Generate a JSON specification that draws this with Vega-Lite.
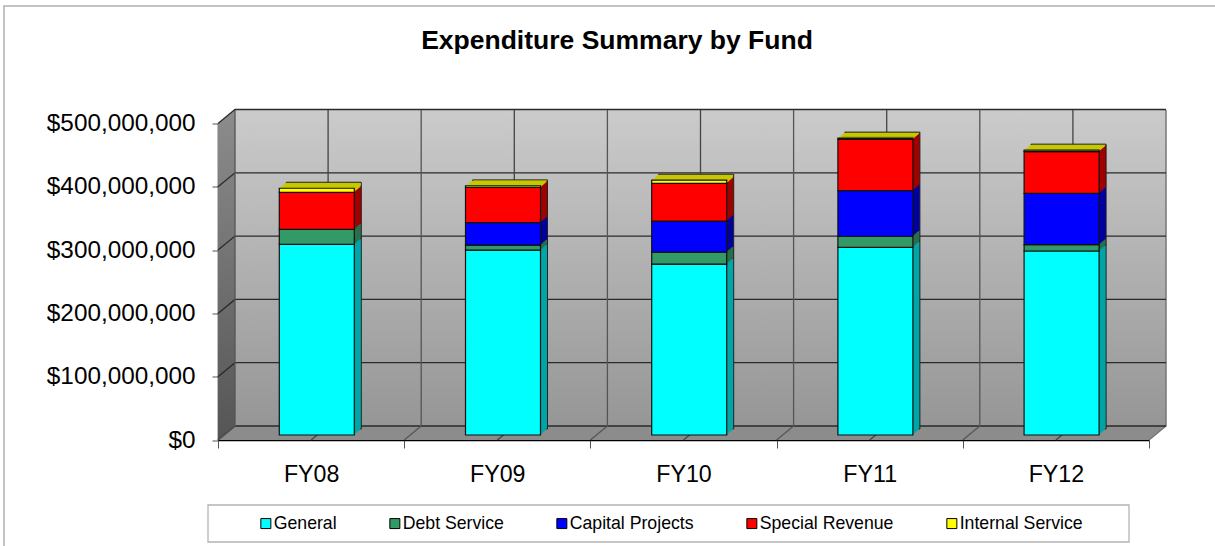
{
"$schema":"https://vega.github.io/schema/vega-lite/v6.json",
"width":931,"height":316.5,
"autosize":"none",
"padding":{"left":218,"top":123.5,"right":66,"bottom":106},
"background":"white",
"title":{"text":"Expenditure Summary by Fund","font":"Liberation Sans","fontSize":26.5,"fontWeight":"bold","color":"black","anchor":"middle","dx":-66.5,"offset":0,"dy":51},
"datasets":{
"main":[
{"fy":"FY08","fund":"General","rank":1,"value":301000000},
{"fy":"FY08","fund":"Debt Service","rank":2,"value":24000000},
{"fy":"FY08","fund":"Special Revenue","rank":4,"value":58400000},
{"fy":"FY08","fund":"Internal Service","rank":5,"value":6400000},
{"fy":"FY09","fund":"General","rank":1,"value":292000000},
{"fy":"FY09","fund":"Debt Service","rank":2,"value":8000000},
{"fy":"FY09","fund":"Capital Projects","rank":3,"value":35400000},
{"fy":"FY09","fund":"Special Revenue","rank":4,"value":55600000},
{"fy":"FY09","fund":"Internal Service","rank":5,"value":2500000},
{"fy":"FY10","fund":"General","rank":1,"value":270000000},
{"fy":"FY10","fund":"Debt Service","rank":2,"value":19000000},
{"fy":"FY10","fund":"Capital Projects","rank":3,"value":49000000},
{"fy":"FY10","fund":"Special Revenue","rank":4,"value":59500000},
{"fy":"FY10","fund":"Internal Service","rank":5,"value":5000000},
{"fy":"FY11","fund":"General","rank":1,"value":296500000},
{"fy":"FY11","fund":"Debt Service","rank":2,"value":17500000},
{"fy":"FY11","fund":"Capital Projects","rank":3,"value":72000000},
{"fy":"FY11","fund":"Special Revenue","rank":4,"value":81000000},
{"fy":"FY11","fund":"Internal Service","rank":5,"value":2000000},
{"fy":"FY12","fund":"General","rank":1,"value":290700000},
{"fy":"FY12","fund":"Debt Service","rank":2,"value":9900000},
{"fy":"FY12","fund":"Capital Projects","rank":3,"value":81200000},
{"fy":"FY12","fund":"Special Revenue","rank":4,"value":65800000},
{"fy":"FY12","fund":"Internal Service","rank":5,"value":2400000}
],
"cats":[{"fy":"FY08"},{"fy":"FY09"},{"fy":"FY10"},{"fy":"FY11"},{"fy":"FY12"}],
"one":[{"fy":"FY08"}],
"ticks":[{"fy":"FY08","t":0},{"fy":"FY08","t":100000000},{"fy":"FY08","t":200000000},{"fy":"FY08","t":300000000},{"fy":"FY08","t":400000000},{"fy":"FY08","t":500000000}]
},
"data":{"name":"main"},
"encoding":{
"x":{"field":"fy","type":"nominal","bandPosition":0,"title":null,"scale":{"domain":["FY08","FY09","FY10","FY11","FY12"],"paddingInner":0,"paddingOuter":0},
"axis":{"labelAngle":0,"labelFont":"Liberation Sans","labelFontSize":23.2,"labelColor":"black","labelPadding":15.5,"tickBand":"extent","tickSize":8,"tickColor":"#555","domainColor":"black","domainWidth":1.5,"grid":false}}
},
"layer":[
{"data":{"name":"one"},"encoding":{"y":{"datum":0,"type":"quantitative"}},"mark":{"type":"point","opacity":1,"filled":false,"size":4,"shape":"M-214 106L-214 -434L997 -434","stroke":"#b0b0b0","strokeWidth":1.5}},
{"data":{"name":"one"},"encoding":{"y":{"datum":0,"type":"quantitative"}},"mark":{"type":"point","opacity":1,"filled":true,"size":4,"shape":"M0 0L17 -14L948 -14L931 0Z","fill":"#8c8c8c","stroke":"#8c8c8c","strokeWidth":0}},
{"data":{"name":"one"},"encoding":{"y":{"datum":0,"type":"quantitative"}},"mark":{"type":"point","opacity":1,"filled":true,"size":4,"shape":"M17 -14L17 -330L948 -330L948 -14Z","strokeWidth":0,"fill":{"gradient":"linear","x1":0,"y1":0,"x2":0,"y2":1,"stops":[{"offset":0,"color":"#cbcbcb"},{"offset":1,"color":"#969696"}]}}},
{"data":{"name":"one"},"encoding":{"y":{"datum":0,"type":"quantitative"}},"mark":{"type":"point","opacity":1,"filled":true,"size":4,"shape":"M0 0L17 -14L17 -330L0 -316.5Z","strokeWidth":0,"fill":{"gradient":"linear","x1":0,"y1":0,"x2":0,"y2":1,"stops":[{"offset":0,"color":"#8c8c8c"},{"offset":1,"color":"#555555"}]}}},
{"data":{"name":"one"},"encoding":{"y":{"datum":0,"type":"quantitative"}},"mark":{"type":"point","opacity":1,"filled":false,"size":4,"shape":"M948 -330L948 -14L931 0","stroke":"#777777","strokeWidth":1.5}},
{"data":{"name":"ticks"},"encoding":{"y":{"field":"t","type":"quantitative"}},"mark":{"type":"point","opacity":1,"filled":false,"size":4,"shape":"M0 0L17 -14L948 -14","stroke":"#2a2a2a","strokeWidth":1.3}},
{"data":{"name":"cats"},"encoding":{"y":{"datum":0,"type":"quantitative"}},"mark":{"type":"point","opacity":1,"filled":false,"size":4,"shape":"M0 0L17 -14L17 -330","stroke":"#555555","strokeWidth":1.3}},
{"data":{"name":"cats"},"encoding":{"x":{"field":"fy","type":"nominal","bandPosition":0.5},"y":{"datum":0,"type":"quantitative"}},"mark":{"type":"point","opacity":1,"filled":false,"size":4,"shape":"M0 0L17 -14L17 -330","stroke":"#444444","strokeWidth":1.3}},
{"data":{"name":"one"},"encoding":{"y":{"datum":0,"type":"quantitative"}},"mark":{"type":"point","opacity":1,"filled":false,"size":4,"shape":"M-10 65L911 65L911 102L-10 102Z","stroke":"#b4b4b4","strokeWidth":1.3}},
{"mark":{"type":"bar","size":75,"xOffset":12.7,"x2Offset":12.7,"yOffset":-11,"y2Offset":-11,"stroke":"#222","strokeWidth":1},
 "encoding":{"x":{"field":"fy","type":"nominal"},"y":{"field":"value","type":"quantitative","stack":"zero"},"order":{"field":"rank"},"color":{"field":"fund","type":"nominal","legend":null,"scale":{"domain":["General","Debt Service","Capital Projects","Special Revenue","Internal Service"],"range":["#00a5a5","#2a6f4c","#0000a0","#a00000","#c8c800"]}}}},
{"mark":{"type":"bar","size":75,"xOffset":11.7,"x2Offset":11.7,"yOffset":-10.14,"y2Offset":-10.14},
 "encoding":{"x":{"field":"fy","type":"nominal"},"y":{"field":"value","type":"quantitative","stack":"zero"},"order":{"field":"rank"},"color":{"field":"fund","type":"nominal","legend":null,"scale":{"domain":["General","Debt Service","Capital Projects","Special Revenue","Internal Service"],"range":["#00a5a5","#2a6f4c","#0000a0","#a00000","#c8c800"]}}}},
{"mark":{"type":"bar","size":75,"xOffset":10.7,"x2Offset":10.7,"yOffset":-9.29,"y2Offset":-9.29},
 "encoding":{"x":{"field":"fy","type":"nominal"},"y":{"field":"value","type":"quantitative","stack":"zero"},"order":{"field":"rank"},"color":{"field":"fund","type":"nominal","legend":null,"scale":{"domain":["General","Debt Service","Capital Projects","Special Revenue","Internal Service"],"range":["#00a5a5","#2a6f4c","#0000a0","#a00000","#c8c800"]}}}},
{"mark":{"type":"bar","size":75,"xOffset":9.7,"x2Offset":9.7,"yOffset":-8.43,"y2Offset":-8.43},
 "encoding":{"x":{"field":"fy","type":"nominal"},"y":{"field":"value","type":"quantitative","stack":"zero"},"order":{"field":"rank"},"color":{"field":"fund","type":"nominal","legend":null,"scale":{"domain":["General","Debt Service","Capital Projects","Special Revenue","Internal Service"],"range":["#00a5a5","#2a6f4c","#0000a0","#a00000","#c8c800"]}}}},
{"mark":{"type":"bar","size":75,"xOffset":8.7,"x2Offset":8.7,"yOffset":-7.57,"y2Offset":-7.57},
 "encoding":{"x":{"field":"fy","type":"nominal"},"y":{"field":"value","type":"quantitative","stack":"zero"},"order":{"field":"rank"},"color":{"field":"fund","type":"nominal","legend":null,"scale":{"domain":["General","Debt Service","Capital Projects","Special Revenue","Internal Service"],"range":["#00a5a5","#2a6f4c","#0000a0","#a00000","#c8c800"]}}}},
{"mark":{"type":"bar","size":75,"xOffset":7.7,"x2Offset":7.7,"yOffset":-6.71,"y2Offset":-6.71},
 "encoding":{"x":{"field":"fy","type":"nominal"},"y":{"field":"value","type":"quantitative","stack":"zero"},"order":{"field":"rank"},"color":{"field":"fund","type":"nominal","legend":null,"scale":{"domain":["General","Debt Service","Capital Projects","Special Revenue","Internal Service"],"range":["#00a5a5","#2a6f4c","#0000a0","#a00000","#c8c800"]}}}},
{"mark":{"type":"bar","size":75,"xOffset":6.7,"x2Offset":6.7,"yOffset":-5.86,"y2Offset":-5.86},
 "encoding":{"x":{"field":"fy","type":"nominal"},"y":{"field":"value","type":"quantitative","stack":"zero"},"order":{"field":"rank"},"color":{"field":"fund","type":"nominal","legend":null,"scale":{"domain":["General","Debt Service","Capital Projects","Special Revenue","Internal Service"],"range":["#00a5a5","#2a6f4c","#0000a0","#a00000","#c8c800"]}}}},
{"mark":{"type":"bar","size":75,"xOffset":5.7,"x2Offset":5.7,"yOffset":-5,"y2Offset":-5,"stroke":"#111","strokeWidth":1.2},
 "encoding":{"x":{"field":"fy","type":"nominal"},"y":{"field":"value","type":"quantitative","stack":"zero","title":null,"scale":{"domain":[0,500000000],"nice":false},
 "axis":{"format":"$,.0f","values":[0,100000000,200000000,300000000,400000000,500000000],"labelFont":"Liberation Sans","labelFontSize":24.3,"labelColor":"black","labelPadding":17,"tickSize":6,"tickColor":"#555","domainColor":"black","domainWidth":1.5,"grid":false}},"order":{"field":"rank"},"color":{"field":"fund","type":"nominal","title":null,"scale":{"domain":["General","Debt Service","Capital Projects","Special Revenue","Internal Service"],"range":["#00ffff","#339966","#0000ff","#ff0000","#ffff00"]},
 "legend":{"orient":"none","legendX":39,"legendY":391,"direction":"horizontal","columns":5,"columnPadding":49,"padding":0,"symbolType":"square","symbolSize":100,"symbolStrokeColor":"black","symbolStrokeWidth":1,"symbolOpacity":1,"labelFont":"Liberation Sans","labelFontSize":17.7,"labelColor":"black","labelOffset":-1,"labelLimit":300}}}}
],
"resolve":{"scale":{"color":"independent"}},
"config":{"view":{"stroke":null}}
}
